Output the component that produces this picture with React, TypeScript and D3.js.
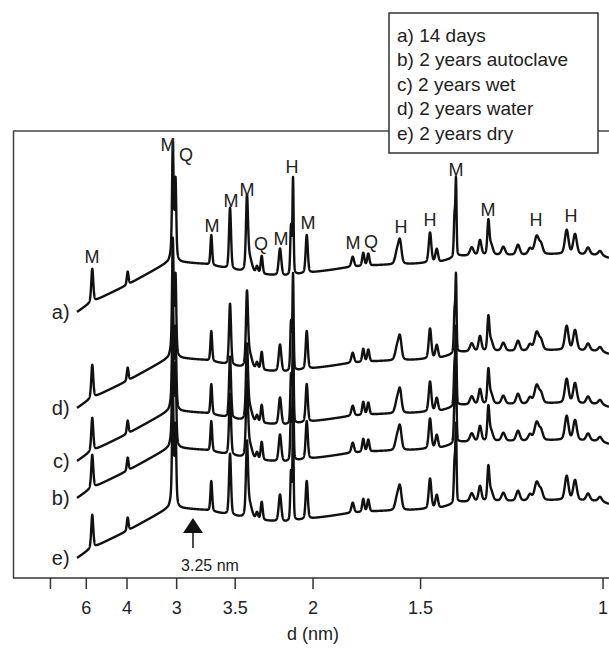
import React, { useMemo } from "react";
import * as d3 from "d3";

// ---- data (x in 2θ-like units, intensity in arbitrary counts) ----
const traceNames = ["a)", "b)", "c)", "d)", "e)"];
const traceOffsets = [0, -186, -149, -96, -246];

const legendLabels = [
  "a) 14 days",
  "b) 2 years autoclave",
  "c) 2 years wet",
  "d) 2 years water",
  "e) 2 years dry",
];

// baseline knots of pattern a)
const baseX = [7.52, 9.04, 13.39, 18.09, 19.38, 22.55, 24.9, 28.42, 31.95, 33.71, 37.23, 39.58, 43.11, 46.63, 50.15, 52.5, 56.03, 59.55, 64.25, 68.95, 70.0];
const baseY = [266, 275, 293, 315, 316, 314, 310, 304, 302, 304, 308, 311, 313, 314, 316, 322, 323, 323, 324, 323, 320];

// reflections: position, height, half width
const peakPos = [9.31, 13.47, 18.77, 18.85, 19.09, 23.29, 25.49, 27.48, 27.75, 28.66, 29.21, 31.36, 32.65, 32.89, 34.5, 39.9, 41.14, 41.73, 45.1, 45.45, 48.98, 49.77, 51.86, 52.03, 53.88, 54.85, 55.83, 56.14, 57.59, 59.31, 60.72, 61.51, 62.02, 65.03, 66.01, 67.54, 68.95];
const peakHeight = [33, 13, 100, 20, 70, 30, 61, 68, 15, 7, 18, 27, 48, 95, 38, 10, 13, 12, 12, 22, 30, 13, 40, 73, 8, 15, 32, 10, 8, 10, 6, 18, 9, 24, 20, 7, 4];
const peakWidth = [0.14, 0.12, 0.1, 0.3, 0.1, 0.12, 0.14, 0.14, 0.35, 0.15, 0.14, 0.18, 0.1, 0.08, 0.15, 0.18, 0.15, 0.15, 0.25, 0.22, 0.18, 0.18, 0.1, 0.08, 0.25, 0.2, 0.14, 0.25, 0.25, 0.25, 0.25, 0.3, 0.25, 0.25, 0.25, 0.25, 0.25];

// phase labels: letter, position, intensity
const phaseText = ["M", "M", "Q", "M", "M", "M", "Q", "M", "H", "M", "M", "Q", "H", "H", "M", "M", "H", "H"];
const phaseX = [9.28, 18.21, 20.32, 23.37, 25.6, 27.48, 29.13, 31.48, 32.77, 34.65, 39.93, 42.05, 45.57, 48.98, 52.03, 55.79, 61.43, 65.54];
const phaseY = [321, 433, 423, 352, 377, 388, 334, 339, 411, 355, 335, 336, 351, 358, 408, 368, 358, 362];

const tickValues = [4.4, 8.61, 13.39, 19.22, 26.1, 35.24, 47.87, 69.3];
const tickLabels = ["", "6", "4", "3", "3.5", "2", "1.5", "1"];

const arrowX = 21.14;
const arrowLabel = "3.25 nm";

const W = 609;
const H = 649;
const FONT = "'Liberation Sans', Arial, sans-serif";

export default function App() {
  const x = d3.scaleLinear().domain([0, 70]).range([13, 609]);
  const y = d3.scaleLinear().domain([0, 450]).range([578, 128]);
  const baseline = d3.scaleLinear().domain(baseX).range(baseY).clamp(true);

  const profile = useMemo(() => {
    const xs = d3.range(baseX[0], 70.0001, 0.01);
    return xs.map((xv) => {
      let v = baseline(xv);
      for (let i = 0; i < peakPos.length; i++) {
        const t = (xv - peakPos[i]) / peakWidth[i];
        const t2 = t * t;
        if (t2 > 4000) continue;
        v += peakHeight[i] * (0.3 / (1 + t2) + 0.7 * Math.exp(-0.693 * t2));
      }
      return [xv, v] as [number, number];
    });
  }, []);

  const paths = traceOffsets.map((off) =>
    d3
      .line<[number, number]>()
      .x((d) => x(d[0]))
      .y((d) => y(d[1] + off))(profile)
  );

  const ax = x(arrowX);

  return (
    <svg width={W} height={H} style={{ position: "absolute", left: 0, top: 0, background: "#fff" }} fontFamily={FONT}>
      <rect x={0} y={0} width={W} height={H} fill="#fff" />
      {/* frame */}
      <line x1={13.5} x2={13.5} y1={y(450) + 3} y2={y(0)} stroke="#444" strokeWidth={1.5} />
      <line x1={13} x2={W} y1={y(450) + 3} y2={y(450) + 3} stroke="#444" strokeWidth={1.5} />
      <line x1={13} x2={W} y1={y(0)} y2={y(0)} stroke="#333" strokeWidth={1.5} />
      {tickValues.map((t, i) => (
        <g key={i}>
          <line x1={x(t)} x2={x(t)} y1={y(0)} y2={y(0) + 11} stroke="#333" strokeWidth={1.5} />
          <text x={x(t)} y={614} textAnchor="middle" fontSize={18} fill="#222">
            {tickLabels[i]}
          </text>
        </g>
      ))}
      <text x={313} y={640} textAnchor="middle" fontSize={18} fill="#222">
        d (nm)
      </text>

      {/* patterns */}
      {paths.map((p, i) => (
        <path key={i} d={p || ""} fill="none" stroke="#111" strokeWidth={2.4} strokeLinejoin="round" />
      ))}
      {traceNames.map((n, i) => (
        <text key={n} x={x(6.65)} y={y(baseY[0] + traceOffsets[i])} dy="0.35em" textAnchor="end" fontSize={20} fill="#222">
          {n}
        </text>
      ))}

      {/* phase labels */}
      {phaseText.map((t, i) => (
        <text key={i} x={x(phaseX[i])} y={y(phaseY[i])} dy="0.35em" textAnchor="middle" fontSize={18} fill="#222">
          {t}
        </text>
      ))}

      {/* arrow */}
      <path d={`M${ax - 10},${y(45)} L${ax + 10},${y(45)} L${ax},${y(60)} Z`} fill="#111" />
      <line x1={ax} x2={ax} y1={y(45)} y2={y(30)} stroke="#111" strokeWidth={1.5} />
      <text x={x(23.14)} y={y(13)} dy="0.35em" textAnchor="middle" fontSize={16} fill="#222">
        {arrowLabel}
      </text>

      {/* legend */}
      <rect x={389} y={13} width={209} height={140} fill="#fff" stroke="#333" strokeWidth={1.5} />
      {legendLabels.map((l, i) => (
        <text key={l} x={397} y={35 + i * 24.5} dy="0.35em" fontSize={19} fill="#222">
          {l}
        </text>
      ))}
    </svg>
  );
}
